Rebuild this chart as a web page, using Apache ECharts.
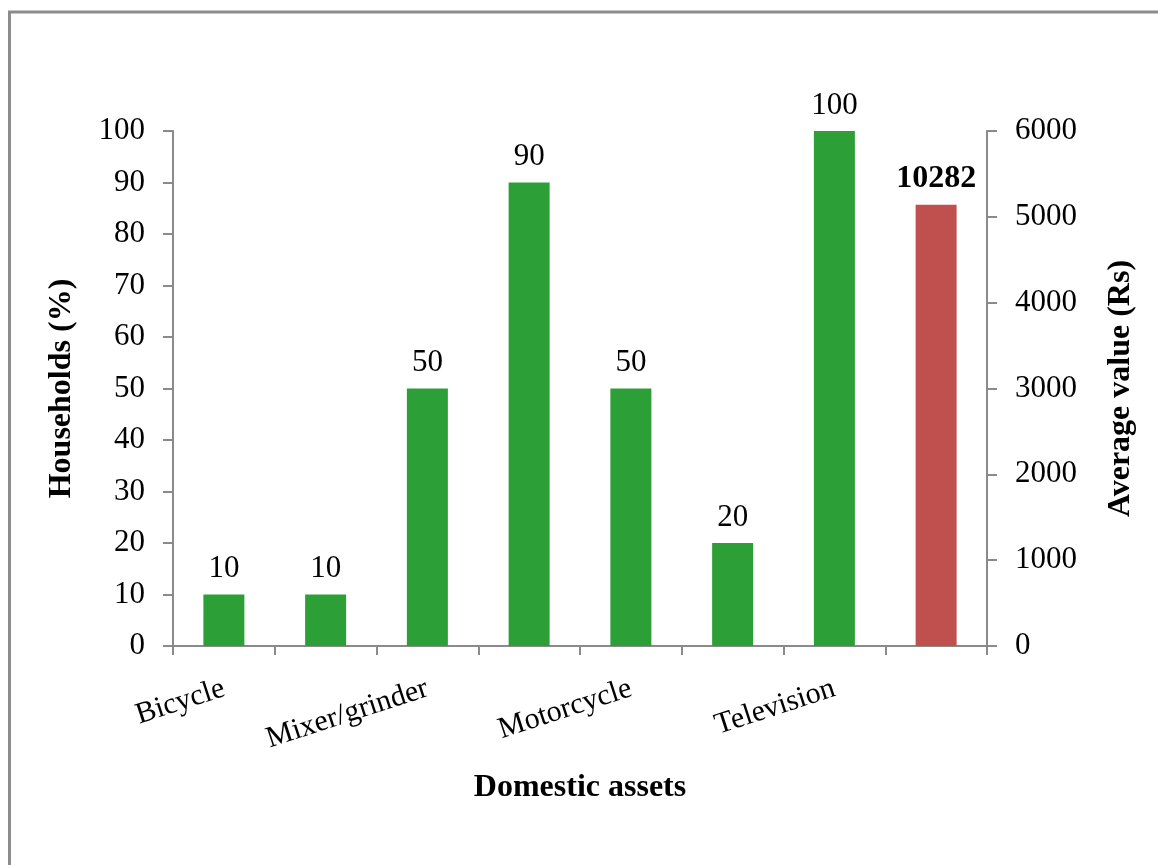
<!DOCTYPE html>
<html>
<head>
<meta charset="utf-8">
<script src="https://cdn.jsdelivr.net/npm/echarts@6/dist/echarts.min.js"></script>
<style>
  html, body { margin: 0; padding: 0; background: #fff; }
  #chart { width: 1158px; height: 865px; }
</style>
</head>
<body>
<div id="chart"></div>
<script>
// Domestic assets owned by households (%), plus the average asset value (Rs)
const categories = ['Bicycle', '', 'Mixer/grinder', '', 'Motorcycle', '', 'Television', ''];
const householdsPct = [10, 10, 50, 90, 50, 20, 100, '-'];
const averageValueRs = ['-', '-', '-', '-', '-', '-', '-', 10282];
const leftTicks = { min: 0, max: 100, interval: 10 };
const rightTicks = { min: 0, max: 6000, interval: 1000 };

const FONT = "'Liberation Serif', 'Times New Roman', serif";
const AXIS_GREY = '#8a8a8a';

const chart = echarts.init(document.getElementById('chart'), null, { renderer: 'canvas' });

chart.setOption({
  backgroundColor: '#ffffff',
  animation: false,
  textStyle: { fontFamily: FONT, color: '#000' },
  graphic: [{
    type: 'rect',
    shape: { x: 9.5, y: 12, width: 1300, height: 1000 },
    style: { fill: 'none', stroke: '#8c8c8c', lineWidth: 3 },
    silent: true
  }],
  grid: { left: 173, right: 171, top: 131, bottom: 219, containLabel: false },
  xAxis: {
    type: 'category',
    data: categories,
    boundaryGap: true,
    name: 'Domestic assets',
    nameLocation: 'middle',
    nameGap: 126,
    nameTextStyle: { fontFamily: FONT, fontSize: 32, fontWeight: 'bold', color: '#000' },
    axisLine: { show: true, lineStyle: { color: AXIS_GREY, width: 2 } },
    axisTick: { show: true, interval: 0, alignWithLabel: false, inside: false, length: 9, lineStyle: { color: AXIS_GREY, width: 2 } },
    axisLabel: { interval: 1, rotate: 18, margin: 42, fontFamily: FONT, fontSize: 30, color: '#000' },
    splitLine: { show: false }
  },
  yAxis: [
    {
      type: 'value',
      position: 'left',
      min: leftTicks.min, max: leftTicks.max, interval: leftTicks.interval,
      name: 'Households (%)',
      nameLocation: 'middle',
      nameRotate: 90,
      nameGap: 95,
      nameTextStyle: { fontFamily: FONT, fontSize: 32, fontWeight: 'bold', color: '#000' },
      axisLine: { show: true, lineStyle: { color: AXIS_GREY, width: 2 } },
      axisTick: { show: true, inside: false, length: 10, lineStyle: { color: AXIS_GREY, width: 2 } },
      axisLabel: { margin: 28, fontFamily: FONT, fontSize: 31, color: '#000' },
      splitLine: { show: false }
    },
    {
      type: 'value',
      position: 'right',
      min: rightTicks.min, max: rightTicks.max, interval: rightTicks.interval,
      name: 'Average value (Rs)',
      nameLocation: 'middle',
      nameRotate: 90,
      nameGap: 118,
      nameTextStyle: { fontFamily: FONT, fontSize: 32, fontWeight: 'bold', color: '#000' },
      axisLine: { show: true, lineStyle: { color: AXIS_GREY, width: 2 } },
      axisTick: { show: true, inside: false, length: 10, lineStyle: { color: AXIS_GREY, width: 2 } },
      axisLabel: { margin: 28, fontFamily: FONT, fontSize: 31, color: '#000', formatter: (v) => String(v) },
      splitLine: { show: false }
    },
    {
      // scale used for the average value bar
      type: 'value',
      position: 'right',
      min: 0, max: 12000,
      show: false,
      splitLine: { show: false }
    }
  ],
  series: [
    {
      name: 'Households (%)',
      type: 'bar',
      yAxisIndex: 0,
      data: householdsPct,
      barWidth: 41,
      barGap: '-100%',
      itemStyle: { color: '#2ca036' },
      label: { show: true, position: 'top', distance: 10, fontFamily: FONT, fontSize: 31, color: '#000' }
    },
    {
      name: 'Average value (Rs)',
      type: 'bar',
      yAxisIndex: 2,
      data: averageValueRs,
      barWidth: 41,
      barGap: '-100%',
      itemStyle: { color: '#c0504d' },
      label: { show: true, position: 'top', distance: 10, fontFamily: FONT, fontSize: 32, fontWeight: 'bold', color: '#000' }
    }
  ]
});
</script>
</body>
</html>
